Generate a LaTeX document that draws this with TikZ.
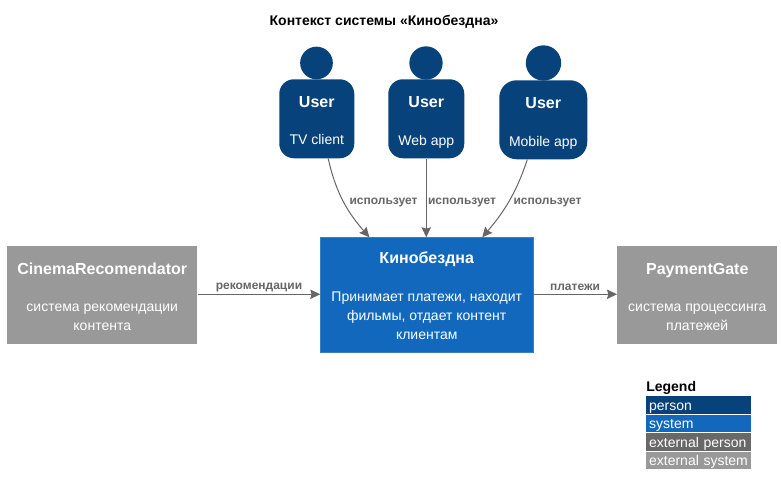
\documentclass[tikz,border=0pt]{standalone}
\usepackage{fontspec}
\setmainfont{Liberation Sans}
\usetikzlibrary{arrows.meta}
\definecolor{personc}{HTML}{08427B}
\definecolor{systemc}{HTML}{1168BD}
\definecolor{systemb}{HTML}{3C7FC0}
\definecolor{extpersonc}{HTML}{686868}
\definecolor{extsystemc}{HTML}{999999}
\definecolor{relc}{HTML}{666666}
\newcommand{\fs}[1]{\fontsize{#1}{#1}\selectfont}
\newcommand{\topsp}{\rule{0pt}{13.5pt}}
\newcommand{\topbox}{\rule{0pt}{10.5pt}}
\newcommand{\botsp}{\rule[-2.2pt]{0pt}{2.2pt}}
\tikzset{
  x=0.75pt,y=-0.75pt,
  head/.style={circle,fill=personc,draw=none,inner sep=0pt},
  body/.style={rectangle,rounded corners=11pt,fill=personc,draw=none,text=white,inner sep=0pt,align=center,anchor=north west},
  box/.style={rectangle,line width=0.4pt,text=white,inner sep=0pt,align=center,anchor=north west},
  rel/.style={draw=relc,line width=0.75pt,-{Stealth[length=7.5pt,width=7pt,inset=1pt]}},
  rellabel/.style={text=relc,font=\fs{9}\bfseries,inner sep=0pt},
  legendrow/.style={rectangle,text=white,font=\fs{10.5},inner sep=0pt,anchor=north west,minimum width=78.75pt,minimum height=13.1pt,text width=74.5pt,align=left,text height=9pt,text depth=1pt},
}
\begin{document}
\begin{tikzpicture}
\useasboundingbox (0,0) rectangle (781,495);
\fill[white] (0,0) rectangle (781,495);
\node[font=\fs{10.5}\bfseries,inner sep=0pt] (title) at (384,21.5) {Контекст системы «Кинобездна»};

\node[head,minimum size=24.5pt] (h1) at (316.5,63) {};
\node[head,minimum size=25pt] (h2) at (426,63) {};
\node[head,minimum size=26.5pt] (h3) at (543.5,63) {};

\node[body,minimum width=56.25pt,minimum height=59.25pt] (u1) at (279,79) {\topsp{\fs{12}\bfseries User}\\[16pt]{\fs{10.5}TV client}\botsp};
\node[body,minimum width=57pt,minimum height=59.25pt] (u2) at (388,79) {\topsp{\fs{12}\bfseries User}\\[16.5pt]{\fs{10.5}Web app}\botsp};
\node[body,minimum width=66pt,minimum height=59.25pt,rounded corners=13pt] (u3) at (499,80) {\topsp{\fs{12}\bfseries User}\\[16.5pt]{\fs{10.5}Mobile app}\botsp};

\node[box,fill=systemc,draw=systemb,minimum width=159.25pt,minimum height=85.75pt] (sys) at (320.3,237.3) {\topbox{\fs{12}\bfseries Кинобездна}\\[16pt]{\fs{10.5}Принимает платежи, находит}\\[2.25pt]{\fs{10.5}фильмы, отдает контент}\\[2.25pt]{\fs{10.5}клиентам}};
\node[box,fill=extsystemc,draw=none,minimum width=142.5pt,minimum height=73.5pt] (rec) at (7,246) {\topbox{\fs{12}\bfseries CinemaRecomendator}\\[16pt]{\fs{10.5}система рекомендации}\\[2.25pt]{\fs{10.5}контента}};
\node[box,fill=extsystemc,draw=none,minimum width=120pt,minimum height=73.5pt] (pay) at (617,246) {\topbox{\fs{12}\bfseries PaymentGate}\\[16pt]{\fs{10.5}система процессинга}\\[2.25pt]{\fs{10.5}платежей}};

\draw[rel] ([xshift=8.6pt]u1.south) .. controls ([xshift=14.6pt,yshift=-27.75pt]u1.south) and ([xshift=-57.4pt,yshift=16.5pt]sys.north) .. ([xshift=-43pt]sys.north);
\draw[rel] (u2.south) -- (u2.south |- sys.north);
\draw[rel] ([xshift=-12pt]u3.south) .. controls ([xshift=-19.5pt,yshift=-23pt]u3.south) and ([xshift=58.9pt,yshift=20pt]sys.north) .. ([xshift=41.6pt]sys.north);
\draw[rel] ([yshift=0.75pt]rec.east) -- ([yshift=0.75pt]sys.west |- rec.east);
\draw[rel] ([yshift=0.75pt]sys.east |- pay.west) -- ([yshift=0.75pt]pay.west);

\node[rellabel] (l1) at (383.5,202.5) {использует};
\node[rellabel] (l2) at (462,202.5) {использует};
\node[rellabel] (l3) at (547.5,202.5) {использует};
\node[rellabel] (l4) at (259,287.5) {рекомендации};
\node[rellabel] (l5) at (575,287.5) {платежи};

\node[font=\fs{10.5}\bfseries,inner sep=0pt,anchor=west] (legend) at (646,388) {Legend};
\node[legendrow,fill=personc] (lg1) at (646,396) {person};
\node[legendrow,fill=systemc] (lg2) at (646,414.5) {system};
\node[legendrow,fill=extpersonc] (lg3) at (646,433) {external person};
\node[legendrow,fill=extsystemc] (lg4) at (646,451.5) {external system};
\end{tikzpicture}
\end{document}
